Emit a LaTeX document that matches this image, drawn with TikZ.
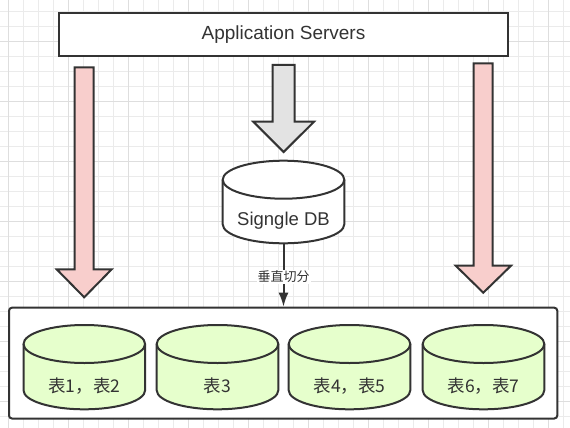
\documentclass[tikz,border=0pt]{standalone}
\usepackage{fontspec}
\setmainfont{Liberation Sans}
\newfontfamily\cjk{Noto Sans CJK SC}
\usepackage{tikz}
\usetikzlibrary{arrows.meta}
\usetikzlibrary{positioning,calc}

\definecolor{linec}{HTML}{333333}
\definecolor{pinkfill}{HTML}{F8CECC}
\definecolor{greenfill}{HTML}{E6FFCC}
\definecolor{grayfill}{HTML}{E3E3E3}
\definecolor{gridminor}{HTML}{EBEBEB}
\definecolor{gridmajor}{HTML}{DEDEDE}

\tikzset{
  cylline/.style={draw=linec, line width=2pt},
  cyltext/.style={text=linec, inner sep=0pt},
  appbox/.style={draw=linec, fill=white, line width=2pt, minimum width=449.6pt,
    minimum height=43.3pt, inner sep=0pt, text=linec, font=\fontsize{19}{22}\selectfont},
  tablebox/.style={draw=linec, fill=white, line width=2pt, rounded corners=3pt,
    minimum width=548.3pt, minimum height=110.8pt, inner sep=0pt},
  bigarrow/.style={draw=linec, line width=2pt, line join=miter},
}

% cylinder: name, centre x, top y, bottom y, fill, text
\newcommand{\dbcyl}[6]{%
  \filldraw[fill=#5, cylline] ({#2-60.8},{-#3-19}) -- ({#2-60.8},{-#4+19})
    arc[start angle=180, end angle=360, x radius=60.8, y radius=19]
    -- ({#2+60.8},{-#3-19})
    arc[start angle=0, end angle=180, x radius=60.8, y radius=19] -- cycle;
  \draw[cylline] ({#2+60.8},{-#3-19})
    arc[start angle=0, end angle=-180, x radius=60.8, y radius=19];
  \coordinate (#1-bottom) at (#2,-#4);
  \node[cyltext] (#1) at (#2,{-(#3+38+#4)/2}) {#6};
}

\begin{document}
\begin{tikzpicture}[x=1pt,y=1pt]
	\useasboundingbox (0,0) rectangle (570,-428);
	\fill[white] (0,0) rectangle (570,-428);

	% grid
	\foreach \i in {0,...,37}
		\draw[gridminor, line width=1pt] ({8.3+15*\i},0) -- ({8.3+15*\i},-428);
	\foreach \j in {0,...,27}
		\draw[gridminor, line width=1pt] (0,{-11.7-15*\j}) -- (570,{-11.7-15*\j});
	\foreach \i in {0,...,9}
		\draw[gridmajor, line width=1pt] ({8.3+60*\i},0) -- ({8.3+60*\i},-428);
	\foreach \j in {0,...,6}
		\draw[gridmajor, line width=1pt] (0,{-41.7-60*\j}) -- (570,{-41.7-60*\j});

	% boxes
	\node[appbox] (app) at (283.5,-34.35) {Application Servers};
	\node[tablebox] (tables) at (283.15,-363.1) {};

	% block arrows
	\draw[bigarrow, fill=pinkfill] (74.7,-67.3) -- (93.7,-67.3) -- (93.7,-269.3)
		-- (111.7,-269.3) -- (84.2,-297.3) -- (56.7,-269.3) -- (74.7,-269.3) -- cycle;
	\draw[bigarrow, fill=pinkfill] (473.7,-63.3) -- (492.7,-63.3) -- (492.7,-265.7)
		-- (511,-265.7) -- (483.3,-292.7) -- (455.7,-265.7) -- (473.7,-265.7) -- cycle;
	\draw[bigarrow, fill=grayfill] (272.5,-65) -- (294.5,-65) -- (294.5,-121.7)
		-- (314,-121.7) -- (283.6,-152) -- (253.3,-121.7) -- (272.5,-121.7) -- cycle;

	% databases
	\dbcyl{db}{283.5}{160.7}{243.3}{white}{\fontsize{18.5}{22}\selectfont Signgle DB}
	\dbcyl{t1}{84.3}{325}{409.3}{greenfill}{\cjk\fontsize{17.5}{20}\selectfont 表1，表2}
	\dbcyl{t2}{217.5}{325}{409.3}{greenfill}{\cjk\fontsize{17.5}{20}\selectfont 表3}
	\dbcyl{t3}{349.5}{325}{409.3}{greenfill}{\cjk\fontsize{17.5}{20}\selectfont 表4，表5}
	\dbcyl{t4}{483.5}{325}{409.3}{greenfill}{\cjk\fontsize{17.5}{20}\selectfont 表6，表7}

	% split
	\draw[linec, line width=2pt, -{Latex[length=14pt,width=10pt]}] (db-bottom) -- (db-bottom |- tables.north)
		node[pos=0.53, fill=white, inner sep=1pt, text=linec, font=\cjk\fontsize{13}{15}\selectfont] {垂直切分};
\end{tikzpicture}
\end{document}
